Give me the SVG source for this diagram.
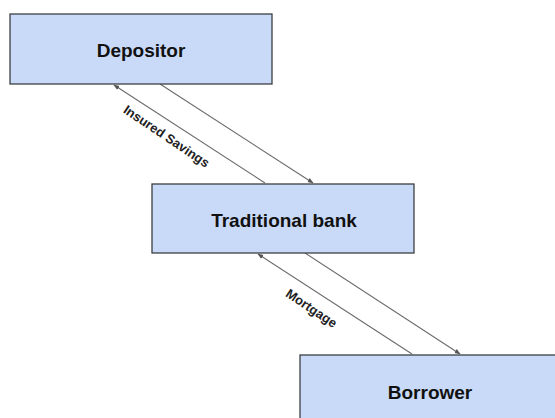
<svg xmlns="http://www.w3.org/2000/svg" width="555" height="418" viewBox="0 0 555 418">
<style>
.box{fill:#c9daf8;stroke:#3c4043;stroke-width:1.3}
.lbl{font-family:"Liberation Sans",Arial,sans-serif;font-weight:bold;font-size:19px;fill:#111;text-anchor:middle}
.edge{stroke:#6b6b6b;stroke-width:1.1;fill:none;marker-end:url(#ah)}
.el{font-family:"Liberation Sans",Arial,sans-serif;font-weight:bold;font-size:13px;fill:#222;text-anchor:middle}
</style>
<defs>
<marker id="ah" viewBox="0 0 10 10" refX="9" refY="5" markerWidth="6" markerHeight="6" orient="auto" markerUnits="userSpaceOnUse">
<path d="M0,1 L10,5 L0,9 z" fill="#555"/>
</marker>
</defs>
<rect width="555" height="418" fill="#fff"/>
<g id="connectors">
<line class="edge" x1="265" y1="183" x2="114" y2="85"/>
<line class="edge" x1="160" y1="84" x2="313" y2="183"/>
<line class="edge" x1="412" y1="354" x2="258" y2="254"/>
<line class="edge" x1="305" y1="253" x2="460" y2="354"/>
<text class="el" transform="translate(164,140) rotate(34)">Insured Savings</text>
<text class="el" transform="translate(309,312) rotate(34)">Mortgage</text>
</g>
<g id="depositor">
<rect class="box" x="10" y="14" width="262" height="70"/>
<text class="lbl" x="141" y="57">Depositor</text>
</g>
<g id="bank">
<rect class="box" x="152" y="184" width="262" height="69"/>
<text class="lbl" x="284" y="227">Traditional bank</text>
</g>
<g id="borrower">
<rect class="box" x="300" y="355" width="262" height="70"/>
<text class="lbl" x="430" y="399">Borrower</text>
</g>
</svg>
